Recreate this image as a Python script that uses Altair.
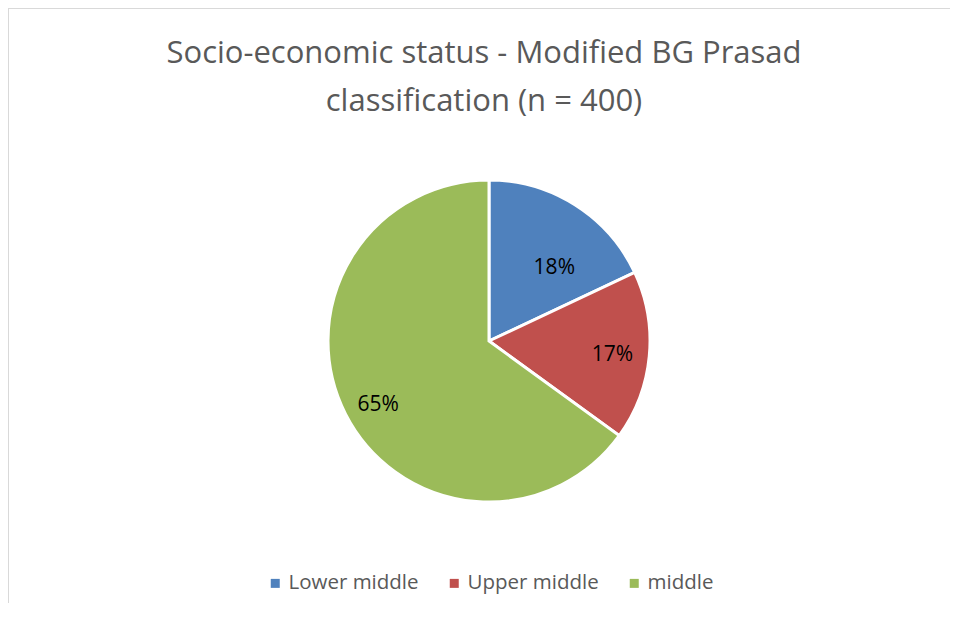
import altair as alt
import pandas as pd

categories = ["Lower middle", "Upper middle", "middle"]
values = [18, 17, 65]
labels = ["18%", "17%", "65%"]
colors = ["#4F81BD", "#C0504D", "#9BBB59"]
title_lines = ["Socio-economic status - Modified BG Prasad", "classification (n = 400)"]

df = pd.DataFrame({
    "category": categories,
    "value": values,
    "label": labels,
    "idx": list(range(len(categories))),
})

FONT = "Open Sans"
base = alt.Chart(df).transform_window(
    cum="sum(value)", sort=[alt.SortField("idx")], frame=[None, 0]
).transform_calculate(
    start="datum.cum - datum.value",
    mid="datum.cum - datum.value / 2",
)

theta_scale = alt.Scale(domain=[0, 100])

arcs = base.mark_arc(outerRadius=161, stroke="white", strokeWidth=3).encode(
    theta=alt.Theta("start:Q", scale=theta_scale),
    theta2="cum:Q",
    color=alt.Color(
        "category:N",
        sort=categories,
        scale=alt.Scale(domain=categories, range=colors),
        legend=alt.Legend(
            title=None,
            orient="none",
            legendX=237,
            legendY=445,
            direction="horizontal",
            symbolType="square",
            symbolSize=81,
            symbolStrokeWidth=0,
            labelFont=FONT,
            labelFontSize=20.5,
            labelColor="#595959",
            labelOffset=3,
            columnPadding=25,
        ),
    ),
)

offsets = {"Lower middle": (1, 28), "Upper middle": (4, 3), "middle": (-4, 10)}
text_layers = []
for cat in categories:
    dx, dy = offsets[cat]
    text_layers.append(
        base.transform_filter(alt.datum.category == cat)
        .mark_text(radius=120, dx=dx, dy=dy, font=FONT, fontSize=21, color="black")
        .encode(theta=alt.Theta("mid:Q", scale=theta_scale), text="label:N")
    )

border_top = alt.Chart(df).mark_rule(color="#D9D9D9", strokeWidth=1).encode(
    x=alt.value(-19.5), x2=alt.value(922), y=alt.value(-119.5)
)
border_left = alt.Chart(df).mark_rule(color="#D9D9D9", strokeWidth=1).encode(
    x=alt.value(-19.5), y=alt.value(-119.5), y2=alt.value(475)
)

chart = alt.layer(arcs, *text_layers, border_top, border_left).properties(
    width=922,
    height=426,
    padding={"left": 20, "top": 120, "right": 0, "bottom": 57},
    autosize=alt.AutoSizeParams(type="none"),
    title=alt.TitleParams(
        text=title_lines,
        font=FONT,
        fontSize=31,
        fontWeight="normal",
        color="#595959",
        lineHeight=48,
        anchor="middle",
        offset=0,
        dy=110,
        dx=-5,
    ),
).configure_view(stroke=None)

chart.save("out.html", embed_options={"renderer": "svg", "actions": False})
